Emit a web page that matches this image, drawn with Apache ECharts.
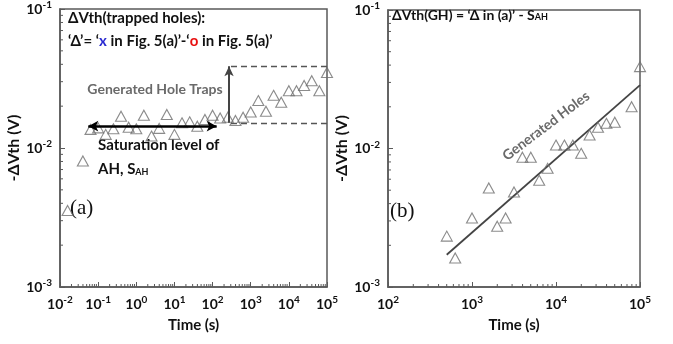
<!DOCTYPE html>
<html><head><meta charset="utf-8">
<script src="https://cdn.jsdelivr.net/npm/echarts@6/dist/echarts.min.js"></script>
<style>html,body{margin:0;padding:0;background:#fff}#c{width:673px;height:344px}</style>
</head><body><div id="c"></div>
<script>
// (a) ΔVth of trapped holes vs. stress time
const timeA = [0.0158, 0.0398, 0.0631, 0.1, 0.158, 0.251, 0.398, 0.631, 1, 1.58, 2.51, 3.98, 6.31,
  10, 15.8, 25.1, 39.8, 63.1, 100, 158, 251, 398, 631, 1000, 1585, 2512, 3981, 6310,
  10000, 15849, 25119, 39811, 63096, 100000];
const dvthA = [0.00355, 0.00807, 0.01361, 0.01396, 0.01253, 0.01374, 0.01693, 0.01412, 0.01374, 0.01722,
  0.01218, 0.01384, 0.01742, 0.01253, 0.01518, 0.01542, 0.01435, 0.01603, 0.01722, 0.01644,
  0.01665, 0.01578, 0.01665, 0.01815, 0.02193, 0.01837, 0.02393, 0.02133, 0.02582, 0.02582,
  0.02817, 0.03048, 0.02582, 0.0349];

// (b) ΔVth of generated holes and its power-law fit
const timeB = [501, 631, 1000, 1585, 1995, 2512, 3162, 3981, 5012, 6310, 7943, 10000, 12589,
  15849, 19953, 25119, 31623, 39811, 50119, 79433, 100000];
const dvthB = [0.00233, 0.00162, 0.00315, 0.00519, 0.00275, 0.00315, 0.00485, 0.00864, 0.00864,
  0.00589, 0.00719, 0.01059, 0.01059, 0.01059, 0.00923, 0.01252, 0.01422, 0.0152, 0.01546,
  0.02005, 0.039];
const fitTimeB = [500, 100000];
const fitDvthB = [0.00171, 0.0287];

// reference levels in (a)
const satLevel = 0.01517;       // saturation level S_AH (lower dashed line)
const trapTop = 0.0388;         // upper dashed line
const dashStart = 304;          // time where the dashed guides begin
const trapArrowTime = 270;      // vertical arrow position
const satArrowLevel = 0.01436;  // double arrow level
const satArrowFrom = 0.0552, satArrowTo = 128;

const SANS = 'Lato';
const SERIF = 'Liberation Serif';
const AX = '#5a5a5a';

function powLabel(v) { return '10{s|' + Math.round(Math.log10(v)) + '}'; }
function minorTicks(e0, e1) {
  const out = [];
  for (let e = e0; e < e1; e++) for (let m = 2; m <= 9; m++) out.push(+(m * Math.pow(10, e)).toPrecision(3));
  return out;
}
const labelStyle = {
  formatter: powLabel, color: '#111', fontFamily: SANS, fontWeight: 'bold', fontSize: 14, lineHeight: 18,
  rich: { s: { fontSize: 10, fontFamily: SANS, fontWeight: 'bold', color: '#111', verticalAlign: 'top', lineHeight: 11 } }
};
function logAxis(min, max, split, extra) {
  return Object.assign({
    type: 'log', logBase: 10, min: min, max: max, splitNumber: split,
    axisLine: { show: true, lineStyle: { color: AX, width: 1.5 } },
    axisTick: { show: true, inside: true, length: 5, lineStyle: { color: AX, width: 1 } },
    splitLine: { show: false },
    axisLabel: Object.assign({}, labelStyle),
    nameLocation: 'middle',
    nameTextStyle: { fontFamily: SANS, fontWeight: 'bold', fontSize: 15, color: '#111' }
  }, extra);
}
// short inside tick marks at 2..9 × 10^k
function tickSeries(xi, vals, fixed, dir) {
  return {
    type: 'custom', xAxisIndex: xi, yAxisIndex: xi, silent: true, clip: false, z: 5,
    data: vals.map(v => dir === 'x' ? [v, fixed] : [fixed, v]),
    renderItem: function (params, api) {
      const p = api.coord([api.value(0), api.value(1)]);
      const shape = dir === 'x' ? { x1: p[0], y1: p[1], x2: p[0], y2: p[1] - 3 } : { x1: p[0], y1: p[1], x2: p[0] + 3, y2: p[1] };
      return { type: 'line', shape: shape, style: { stroke: AX, lineWidth: 1 } };
    }
  };
}
const tri = {
  type: 'scatter', symbol: 'triangle', symbolSize: [11, 10], z: 4,
  itemStyle: { color: 'rgba(255,255,255,0)', borderColor: '#6e6e6e', borderWidth: 1.1 }
};
const yNameStyle = { fontFamily: SANS, fontWeight: 'bold', fontSize: 16, color: '#111' };

const chart = echarts.init(document.getElementById('c'), null, { renderer: 'canvas' });
chart.setOption({
  animation: false,
  backgroundColor: '#fff',
  grid: [
    { left: 60, top: 7, width: 267, height: 280, show: true, borderColor: AX, borderWidth: 1.5, backgroundColor: 'transparent' },
    { left: 388, top: 10, width: 252, height: 277, show: true, borderColor: AX, borderWidth: 1.5, backgroundColor: 'transparent' }
  ],
  xAxis: [
    logAxis(0.01, 1e5, 7, { gridIndex: 0, name: 'Time (s)', nameGap: 30 }),
    logAxis(100, 1e5, 3, { gridIndex: 1, name: 'Time (s)', nameGap: 30 })
  ],
  yAxis: [
    logAxis(0.001, 0.1, 2, { gridIndex: 0, name: '-ΔVth (V)', nameGap: 20, nameTextStyle: yNameStyle }),
    logAxis(0.001, 0.1, 2, { gridIndex: 1, name: '-ΔVth (V)', nameGap: 23, nameTextStyle: yNameStyle })
  ],
  series: [
    Object.assign({}, tri, {
      name: 'trapped holes', xAxisIndex: 0, yAxisIndex: 0,
      data: timeA.map((t, i) => [t, dvthA[i]]),
      markLine: {
        silent: true, animation: false, label: { show: false }, symbol: 'none',
        data: [
          [{ coord: [dashStart, satLevel], lineStyle: { type: [6, 4], color: '#555', width: 1.3 } }, { coord: [1e5, satLevel] }],
          [{ coord: [dashStart, trapTop], lineStyle: { type: [6, 4], color: '#555', width: 1.3 } }, { coord: [1e5, trapTop] }],
          [{ coord: [trapArrowTime, satLevel], symbol: 'none', lineStyle: { type: 'solid', color: '#444', width: 2 } },
           { coord: [trapArrowTime, trapTop], symbol: 'arrow', symbolSize: [7, 10] }],
          [{ coord: [satArrowFrom, satArrowLevel], symbol: 'arrow', symbolSize: [8, 10], lineStyle: { type: 'solid', color: '#000', width: 2.5 } },
           { coord: [satArrowTo, satArrowLevel], symbol: 'arrow', symbolSize: [8, 10] }]
        ]
      }
    }),
    Object.assign({}, tri, {
      name: 'generated holes', xAxisIndex: 1, yAxisIndex: 1,
      data: timeB.map((t, i) => [t, dvthB[i]])
    }),
    {
      type: 'line', name: 'fit', xAxisIndex: 1, yAxisIndex: 1, symbol: 'none', z: 3,
      lineStyle: { color: '#444', width: 1.8 },
      data: fitTimeB.map((t, i) => [t, fitDvthB[i]])
    },
    tickSeries(0, minorTicks(-2, 5), 0.001, 'x'),
    tickSeries(0, minorTicks(-3, -1), 0.01, 'y'),
    tickSeries(1, minorTicks(2, 5), 0.001, 'x'),
    tickSeries(1, minorTicks(-3, -1), 100, 'y')
  ],
  graphic: [
    { type: 'text', left: 68, top: 11, style: { text: 'ΔVth(trapped holes):', font: 'bold 15px ' + SANS, fill: '#111' } },
    { type: 'text', left: 68, top: 34, style: {
      text: '{k|‘Δ’= ‘}{x|x}{k| in Fig. 5(a)’-‘}{o|o}{k| in Fig. 5(a)’}',
      rich: {
        k: { font: 'bold 15px ' + SANS, fill: '#111' },
        x: { font: 'bold 15px ' + SANS, fill: '#2a2ad0' },
        o: { font: 'bold 15px ' + SANS, fill: '#e81010' }
      } } },
    { type: 'text', x: 155, y: 89, style: { text: 'Generated Hole Traps', font: 'bold 14px ' + SANS, fill: '#6a6a6a', align: 'center', verticalAlign: 'middle' } },
    { type: 'text', left: 98, top: 138, style: { text: 'Saturation level of', font: 'bold 15px ' + SANS, fill: '#111' } },
    { type: 'text', left: 98, top: 162, style: {
      text: '{k|AH, S}{s|AH}',
      rich: { k: { font: 'bold 15px ' + SANS, fill: '#111' }, s: { font: 'bold 9px ' + SANS, fill: '#111', verticalAlign: 'bottom' } } } },
    { type: 'text', left: 70, top: 198, style: { text: '(a)', font: '21px ' + SERIF, fill: '#111' } },
    { type: 'text', left: 392, top: 8, style: {
      text: '{k|ΔVth(GH) = ‘Δ in (a)’ - S}{s|AH}',
      rich: { k: { font: 'bold 14px ' + SANS, fill: '#111' }, s: { font: 'bold 9px ' + SANS, fill: '#111', verticalAlign: 'bottom' } } } },
    { type: 'text', x: 546, y: 126, rotation: 37 * Math.PI / 180, style: { text: 'Generated Holes', font: 'bold 14px ' + SANS, fill: '#6a6a6a', align: 'center', verticalAlign: 'middle' } },
    { type: 'text', left: 390, top: 201, style: { text: '(b)', font: '21px ' + SERIF, fill: '#111' } }
  ]
});
</script>
</body></html>
